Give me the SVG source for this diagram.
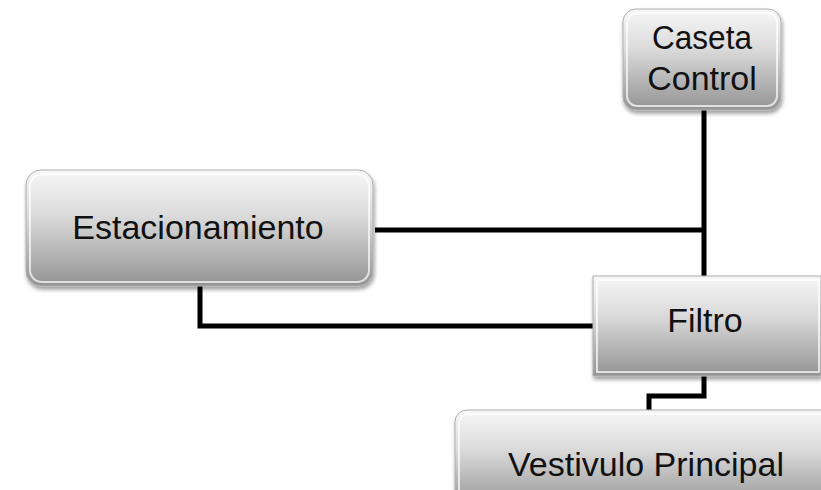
<svg xmlns="http://www.w3.org/2000/svg" width="821" height="490" viewBox="0 0 821 490">
<defs>
<linearGradient id="g" x1="0" y1="0" x2="0" y2="1">
<stop offset="0" stop-color="#f7f7f7"/>
<stop offset="0.4" stop-color="#dadada"/>
<stop offset="1" stop-color="#939393"/>
</linearGradient>
<filter id="sh" x="-10%" y="-10%" width="120%" height="130%">
<feGaussianBlur in="SourceAlpha" stdDeviation="2"/>
<feOffset dx="1" dy="3"/>
<feComponentTransfer><feFuncA type="linear" slope="0.4"/></feComponentTransfer>
<feMerge><feMergeNode/><feMergeNode in="SourceGraphic"/></feMerge>
</filter>
<style>
.box{fill:url(#g);stroke:#b0b0b0;stroke-width:1;filter:url(#sh)}
.hl{fill:none;stroke:#ffffff;stroke-opacity:0.7;stroke-width:2}
.t{font-family:"Liberation Sans",Arial,sans-serif;font-size:34px;fill:#111;text-anchor:middle}
.c{fill:none;stroke:#000;stroke-width:5;stroke-linejoin:miter}
</style>
</defs>
<rect width="821" height="490" fill="#fff"/>
<g id="connectors">
<path class="c" d="M704,110 V276"/>
<path class="c" d="M375,230 H704"/>
<path class="c" d="M200,286 V326 H593"/>
<path class="c" d="M704,376 V396 H649 V410"/>
</g>
<g id="caseta">
<rect class="box" x="623" y="9" width="158" height="101" rx="13"/>
<rect class="hl" x="627" y="13" width="150" height="93" rx="10"/>
<text class="t" x="702" y="49" textLength="100" lengthAdjust="spacingAndGlyphs">Caseta</text>
<text class="t" x="702" y="90">Control</text>
</g>
<g id="estacionamiento">
<rect class="box" x="26" y="170" width="347" height="116" rx="15"/>
<rect class="hl" x="30" y="174" width="339" height="108" rx="12"/>
<text class="t" x="198" y="239">Estacionamiento</text>
</g>
<g id="filtro">
<rect class="box" x="593" y="276" width="228" height="100"/>
<rect class="hl" x="597" y="280" width="222" height="92"/>
<text class="t" x="705" y="332">Filtro</text>
</g>
<g id="vestivulo">
<rect class="box" x="455" y="410" width="380" height="100" rx="12"/>
<rect class="hl" x="459" y="414" width="372" height="92" rx="9"/>
<text class="t" x="646" y="476" textLength="276" lengthAdjust="spacingAndGlyphs">Vestivulo Principal</text>
</g>
</svg>
